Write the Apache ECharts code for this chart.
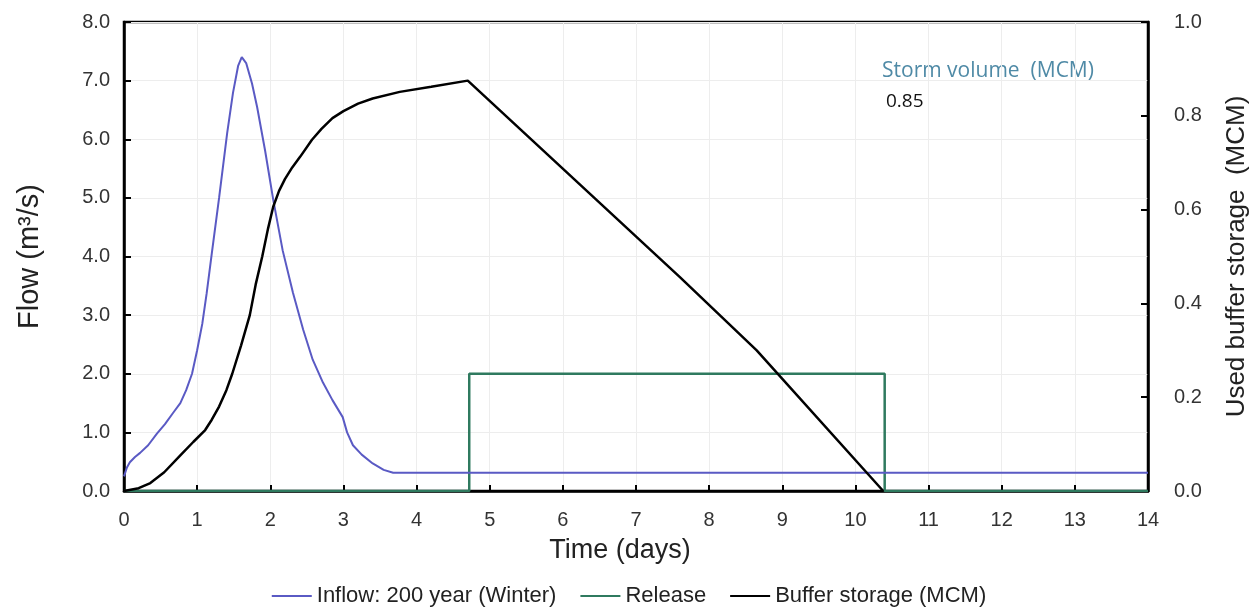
<!DOCTYPE html>
<html>
<head>
<meta charset="utf-8">
<script src="https://cdn.jsdelivr.net/npm/echarts@6/dist/echarts.min.js"></script>
<style>
  html, body { margin: 0; padding: 0; background: #fff; }
  #main { width: 1258px; height: 608px; }
</style>
</head>
<body>
<div id="main"></div>
<script>
// time in days, flow in m3/s
const inflowT = [0, 0.04, 0.08, 0.15, 0.22, 0.33, 0.45, 0.56, 0.67, 0.77, 0.85, 0.93, 1.0, 1.07, 1.13, 1.2, 1.3, 1.41, 1.49, 1.56, 1.61, 1.67, 1.75, 1.82, 1.93, 2.04, 2.17, 2.31, 2.45, 2.58, 2.72, 2.85, 2.99, 3.05, 3.13, 3.25, 3.4, 3.55, 3.68, 5, 8, 11, 14];
const inflowQ = [0.25, 0.4, 0.49, 0.58, 0.65, 0.78, 0.98, 1.14, 1.33, 1.5, 1.72, 2.0, 2.4, 2.85, 3.37, 4.05, 5.0, 6.1, 6.79, 7.25, 7.4, 7.3, 6.95, 6.55, 5.8, 4.97, 4.1, 3.38, 2.75, 2.24, 1.85, 1.55, 1.26, 1.0, 0.78, 0.62, 0.47, 0.36, 0.31, 0.31, 0.31, 0.31, 0.31];

const releaseT = [0, 4.72, 4.72, 10.4, 10.4, 14];
const releaseQ = [0, 0, 2.0, 2.0, 0, 0];

// used buffer storage, MCM
const storageT = [0, 0.2, 0.36, 0.55, 0.77, 0.95, 1.11, 1.2, 1.3, 1.4, 1.48, 1.6, 1.72, 1.8, 1.89, 1.97, 2.04, 2.12, 2.2, 2.3, 2.41, 2.57, 2.7, 2.85, 3.0, 3.2, 3.4, 3.77, 4.2, 4.7, 7.6, 8.65, 10.38];
const storageV = [0, 0.006, 0.017, 0.04, 0.076, 0.105, 0.13, 0.152, 0.18, 0.215, 0.25, 0.31, 0.375, 0.44, 0.5, 0.56, 0.606, 0.64, 0.665, 0.69, 0.713, 0.749, 0.772, 0.795, 0.81, 0.826, 0.837, 0.851, 0.862, 0.875, 0.456, 0.30, 0];

const xTicks = [0, 14, 1];
const flowAxis = [0, 8, 1];
const storageAxis = [0, 1, 0.2];

const pairs = (xs, ys) => xs.map((x, i) => [x, ys[i]]);

const chart = echarts.init(document.getElementById('main'));
const font = 'Liberation Sans, Arial, sans-serif';

const option = {
  backgroundColor: '#fff',
  animation: false,
  textStyle: { fontFamily: font, color: '#222' },
  grid: {
    left: 124, right: 110, top: 22, bottom: 117,
    show: true, borderColor: '#000', borderWidth: 2.5, backgroundColor: 'transparent'
  },
  xAxis: {
    type: 'value',
    min: xTicks[0], max: xTicks[1], interval: xTicks[2],
    name: 'Time (days)',
    nameLocation: 'middle',
    nameGap: 46,
    nameTextStyle: { fontSize: 27, color: '#222', padding: [0, 32, 0, 0] },
    axisLine: { lineStyle: { color: '#000', width: 2.5 } },
    axisTick: { inside: true, length: 6, lineStyle: { color: '#000', width: 2 } },
    axisLabel: { fontSize: 20, color: '#333', margin: 19 },
    splitLine: { show: true, lineStyle: { color: '#ededed', width: 1 } }
  },
  yAxis: [
    {
      type: 'value',
      min: flowAxis[0], max: flowAxis[1], interval: flowAxis[2],
      name: 'Flow (m³/s)',
      nameLocation: 'middle',
      nameRotate: 90,
      nameGap: 80,
      nameTextStyle: { fontSize: 29, color: '#222' },
      axisLine: { show: true, lineStyle: { color: '#000', width: 2.5 } },
      axisTick: { show: true, inside: true, length: 7, lineStyle: { color: '#000', width: 2 } },
      axisLabel: { fontSize: 20, color: '#333', margin: 14, formatter: v => v.toFixed(1) },
      splitLine: { show: true, lineStyle: { color: '#ededed', width: 1 } }
    },
    {
      type: 'value',
      min: storageAxis[0], max: storageAxis[1], interval: storageAxis[2],
      name: 'Used buffer storage  (MCM)',
      nameLocation: 'middle',
      nameRotate: 90,
      nameGap: 76,
      nameTextStyle: { fontSize: 26, color: '#222' },
      axisLine: { show: true, lineStyle: { color: '#000', width: 2.5 } },
      axisTick: { show: true, inside: true, length: 7, lineStyle: { color: '#000', width: 2 } },
      axisLabel: { fontSize: 20, color: '#333', margin: 26, formatter: v => v.toFixed(1) },
      splitLine: { show: false }
    }
  ],
  legend: {
    top: 580,
    left: 'center',
    icon: 'rect',
    itemWidth: 40,
    itemHeight: 2,
    itemGap: 24,
    textStyle: { fontSize: 22, color: '#222' },
    data: ['Inflow: 200 year (Winter)', 'Release', 'Buffer storage (MCM)']
  },
  graphic: [
    {
      type: 'text', left: 882, top: 61,
      style: { text: 'Storm volume  (MCM)', fontSize: 21, fontFamily: 'Open Sans, sans-serif', fill: '#4f8aa6' }
    },
    {
      type: 'text', left: 886, top: 92,
      style: { text: '0.85', fontSize: 19, fontFamily: 'Open Sans, sans-serif', fill: '#111' }
    }
  ],
  series: [
    {
      name: 'Inflow: 200 year (Winter)',
      type: 'line',
      data: pairs(inflowT, inflowQ),
      showSymbol: false,
      lineStyle: { color: '#5a5ac4', width: 2 },
      itemStyle: { color: '#5a5ac4' },
      z: 3
    },
    {
      name: 'Release',
      type: 'line',
      data: pairs(releaseT, releaseQ),
      showSymbol: false,
      lineStyle: { color: '#2f7a5f', width: 2.5 },
      itemStyle: { color: '#2f7a5f' },
      z: 2
    },
    {
      name: 'Buffer storage (MCM)',
      type: 'line',
      yAxisIndex: 1,
      data: pairs(storageT, storageV),
      showSymbol: false,
      lineStyle: { color: '#000', width: 2.5 },
      itemStyle: { color: '#000' },
      z: 4
    }
  ]
};

chart.setOption(option);
</script>
</body>
</html>
